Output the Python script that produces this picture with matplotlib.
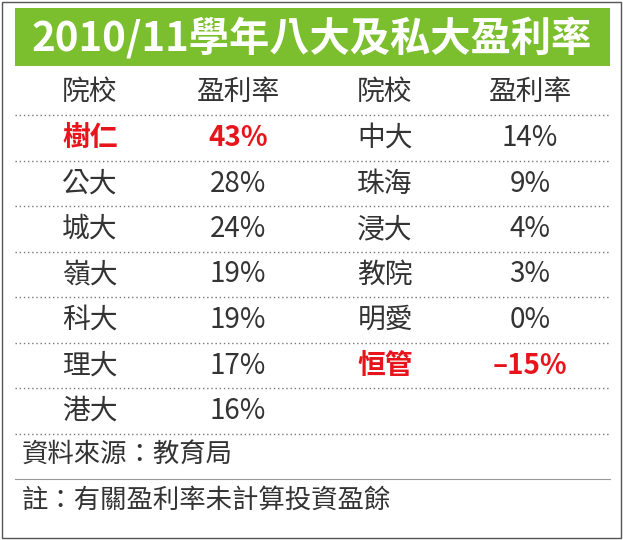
import matplotlib
matplotlib.use("Agg")
import matplotlib.pyplot as plt

title = "2010/11學年八大及私大盈利率"
headers = ["院校", "盈利率", "院校", "盈利率"]
left_names = ["樹仁", "公大", "城大", "嶺大", "科大", "理大", "港大"]
left_rates = ["43%", "28%", "24%", "19%", "19%", "17%", "16%"]
right_names = ["中大", "珠海", "浸大", "教院", "明愛", "恒管"]
right_rates = ["14%", "9%", "4%", "3%", "0%", "–15%"]
left_highlight = ["樹仁"]
right_highlight = ["恒管"]
source = "資料來源：教育局"
note = "註：有關盈利率未計算投資盈餘"

F = "Noto Sans CJK TC"
fig = plt.figure(figsize=(6.23, 5.4), dpi=100)
ax = fig.add_axes([0, 0, 1, 1])
ax.set_xlim(0, 623); ax.set_ylim(540, 0); ax.axis("off")
ax.add_patch(plt.Rectangle((2, 2), 619, 536, fill=False, ec="#555555", lw=1))
ax.add_patch(plt.Rectangle((15, 8), 595, 58, color="#7cbf2e", lw=0))
ax.text(312, 39, title, ha="center", va="center", color="white", fontsize=29, fontweight="bold", family=F)

cols = [90, 238, 385, 530]
for x, h in zip(cols, headers):
    ax.text(x, 92, h, ha="center", va="center", fontsize=20, color="#333333", family=F)
row0, dy = 138, 45.5
for i in range(8):
    y = 115 + i * dy
    ax.plot([15, 610], [y, y], ls=(0, (1, 2)), color="#777777", lw=1)
ax.plot([15, 610], [479, 479], color="#999999", lw=0.8)

def draw(names, rates, hl, xn, xr):
    for i, (n, r) in enumerate(zip(names, rates)):
        y = row0 + i * dy
        red = n in hl
        kw = dict(color="#e8141c", fontweight="bold") if red else dict(color="#333333")
        ax.text(xn, y, n, ha="center", va="center", fontsize=20, family=F, **kw)
        ax.text(xr, y, r, ha="center", va="center", fontsize=20, family=F, **kw)

draw(left_names, left_rates, left_highlight, cols[0], cols[1])
draw(right_names, right_rates, right_highlight, cols[2], cols[3])
ax.text(22, 455, source, ha="left", va="center", fontsize=19, color="#333333", family=F)
ax.text(22, 500, note, ha="left", va="center", fontsize=19, color="#333333", family=F)
fig.savefig("out.png", dpi=100)
